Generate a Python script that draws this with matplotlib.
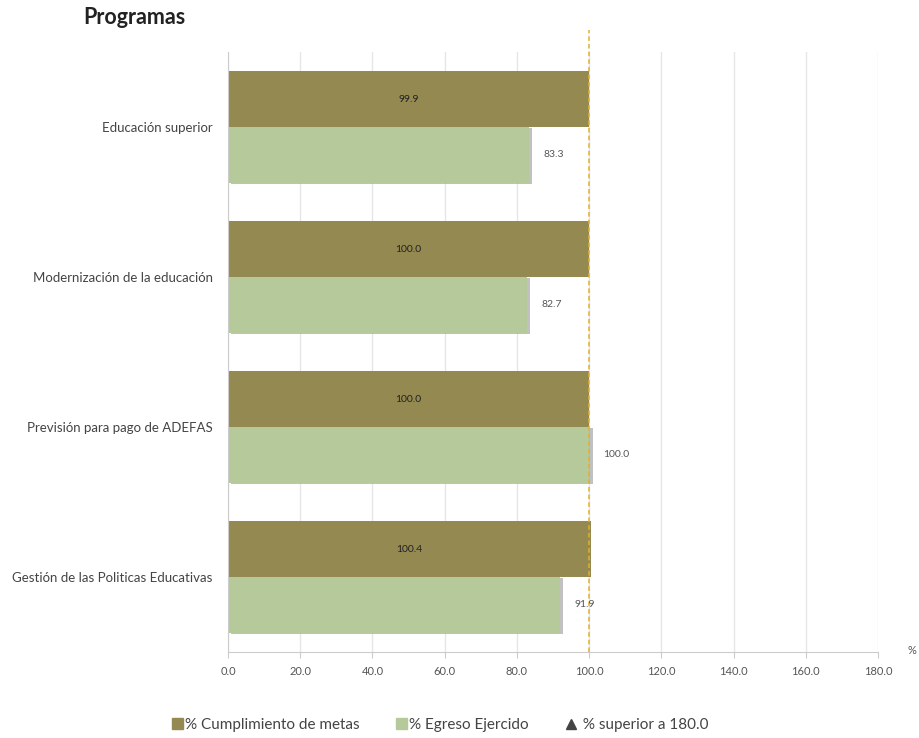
import matplotlib
matplotlib.use("Agg")
import matplotlib.pyplot as plt
import matplotlib.patheffects as pe
from matplotlib.patches import Patch
from matplotlib.lines import Line2D
import numpy as np

plt.rcParams['font.family'] = ['Lato', 'DejaVu Sans']

programas = ['Educación superior', 'Modernización de la educación',
             'Previsión para pago de ADEFAS', 'Gestión de las Politicas Educativas']
metas = [99.9, 100.0, 100.0, 100.4]
egreso = [83.3, 82.7, 100.0, 91.9]
ticks = [0, 20, 40, 60, 80, 100, 120, 140, 160, 180]

c_metas = '#938951'
c_egreso = '#b6c99b'

fig = plt.figure(figsize=(9.2, 7.38), dpi=100)
ax = fig.add_axes([228/920, 1 - 652/738, 650/920, 600/738])

# top category first
pos = np.arange(len(programas))[::-1]
h = 0.373
shadow = [pe.SimplePatchShadow(offset=(2.5, -1), shadow_rgbFace='#999999', alpha=0.6), pe.Normal()]

b1 = ax.barh(pos + h/2, metas, height=h, color=c_metas, zorder=3)
b2 = ax.barh(pos - h/2, egreso, height=h, color=c_egreso, zorder=3)
for b in b2:
    b.set_path_effects(shadow)

for p, v in zip(pos, metas):
    ax.text(v/2, p + h/2, f'{v:.1f}', ha='center', va='center', fontsize=7.5, color='#222222', zorder=5)
for p, v in zip(pos, egreso):
    ax.text(v + 4, p - h/2, f'{v:.1f}', ha='left', va='center', fontsize=7.5, color='#555555', zorder=5)

ax.vlines(100, -0.5, 3.647, colors='#e0b030', linestyles=(0, (3, 2)), linewidth=1.1, zorder=4, clip_on=False)

ax.set_xlim(0, 180)
ax.set_ylim(-0.5, 3.5)
ax.set_xticks(ticks)
ax.set_xticklabels([f'{t:.1f}' for t in ticks], fontsize=8, color='#555555')
ax.set_yticks(pos)
ax.set_yticklabels(programas, fontsize=9.5, color='#444444')
ax.tick_params(axis='y', length=0, pad=11)
ax.tick_params(axis='x', length=4, color='#cccccc', pad=6)
ax.grid(axis='x', color='#e6e6e6', linewidth=1, zorder=0)
for s in ['top', 'right']:
    ax.spines[s].set_visible(False)
ax.spines['left'].set_color('#cccccc')
ax.spines['bottom'].set_color('#cccccc')
ax.spines['left'].set_zorder(6)

fig.text(912/920, 1 - 651/738, '%', fontsize=8, color='#555555', ha='center', va='center')
fig.text(83/920, 1 - 18/738, 'Programas', fontsize=15.5, fontweight='bold', color='#222222', va='center')

handles = [Patch(color=c_metas), Patch(color=c_egreso),
           Line2D([], [], marker='^', color='#444444', linestyle='none', markersize=6.5)]
labels = ['% Cumplimiento de metas', '% Egreso Ejercido', ' % superior a 180.0']
fig.legend(handles, labels, loc='center', bbox_to_anchor=(440/920, 1 - 725/738), ncol=3,
           frameon=False, fontsize=11, handlelength=0.7, handleheight=0.7, handletextpad=0.15,
           columnspacing=2.4, labelcolor='#444444')

fig.savefig('out.png', dpi=100)
